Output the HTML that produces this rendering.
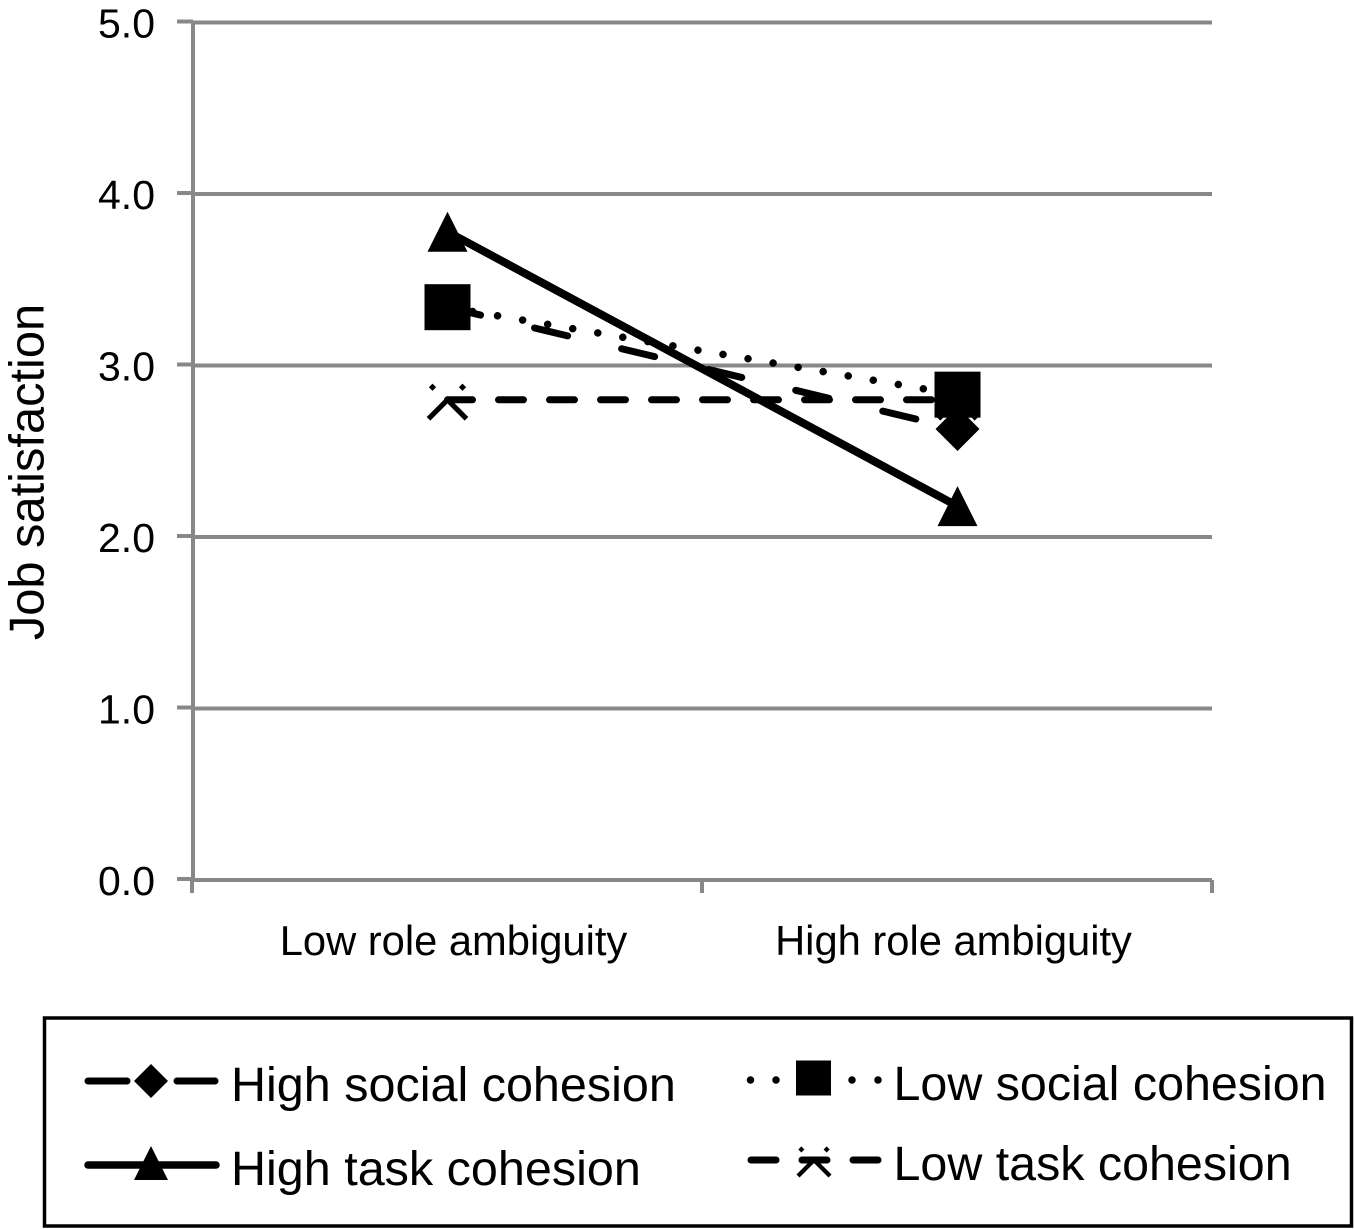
<!DOCTYPE html>
<html lang="en">
<head>
<meta charset="utf-8">
<title>Job satisfaction chart</title>
<style>
html,body{margin:0;padding:0;background:#fff;}
svg{display:block;font-family:"Liberation Sans",sans-serif;fill:#000;}
</style>
</head>
<body>
<svg id="chart" xmlns="http://www.w3.org/2000/svg" width="1354" height="1229" viewBox="0 0 1354 1229">
  <rect x="0" y="0" width="1354" height="1229" fill="#fff"/>
  <g id="grid"></g>
  <g id="axes"></g>
  <g id="series"></g>
  <text transform="translate(43.5 472) rotate(-90)" text-anchor="middle" font-size="48.8">Job satisfaction</text>

  <g>
    <rect x="44.5" y="1018" width="1307" height="208" fill="#fff" stroke="#000" stroke-width="3.5"/>
    <g id="legend-symbols"></g>
    <text x="231" y="1101" font-size="48.5">High social cohesion</text>
    <text x="231" y="1185" font-size="48.5">High task cohesion</text>
    <text x="893.5" y="1100" font-size="48.4">Low social cohesion</text>
    <text x="893.5" y="1180" font-size="48.4">Low task cohesion</text>
  </g>
</svg>
<script>
const categories = ["Low role ambiguity", "High role ambiguity"];
const yTickValues = [0, 1, 2, 3, 4, 5];
const yTickLabels = ["0.0", "1.0", "2.0", "3.0", "4.0", "5.0"];
const highSocialValues = [3.34, 2.63];
const lowSocialValues = [3.34, 2.83];
const highTaskValues = [3.78, 2.18];
const lowTaskValues = [2.80, 2.80];

const NS = "http://www.w3.org/2000/svg";
const plotLeft = 193, plotRight = 1212, plotTop = 22.5, plotBottom = 880;
const yMax = 5;
const gridColor = "#888888";

function yScale(v) { return plotBottom - (v / yMax) * (plotBottom - plotTop); }
function bandLeft(i) { return plotLeft - 1 + i * (plotRight - plotLeft + 1) / categories.length; }
function xScale(i) { return bandLeft(i) + (plotRight - plotLeft + 1) / categories.length / 2 + 0.5; }

function make(tag, attrs, parent) {
  const e = document.createElementNS(NS, tag);
  for (const k in attrs) e.setAttribute(k, attrs[k]);
  parent.appendChild(e);
  return e;
}

function drawMarker(kind, cx, cy, s, parent) {
  if (kind === "diamond") {
    const m = make("polygon", { points: [cx, cy - s, cx + s, cy, cx, cy + s, cx - s, cy].join(","), fill: "#000" }, parent);
    
    
  } else if (kind === "square") {
    const m = make("rect", { x: cx - s, y: cy - s, width: 2 * s, height: 2 * s, fill: "#000" }, parent);
    
    
  } else if (kind === "triangle") {
    const m = make("polygon", { points: [cx, cy - s, cx + s, cy + s, cx - s, cy + s].join(","), fill: "#000" }, parent);
    
    
  } else if (kind === "star") {
    const w = s * 0.27;
    const d = "M" + (cx - s) + " " + (cy + s) + "L" + cx + " " + cy + "L" + (cx + s) + " " + (cy + s);
    const m = make("path", { d: d, fill: "none", stroke: "#000", "stroke-width": w }, parent);
    
    
    [-1, 1].forEach(function (dir) {
      const px = cx + dir * s * 0.79, py = cy - s * 0.66, r = s * 0.19;
      const t = make("polygon", { points: [px, py - r, px + r, py, px, py + r, px - r, py].join(","), fill: "#000" }, parent);
      
      
    });
  }
}

const grid = document.getElementById("grid");
const axes = document.getElementById("axes");
const seriesGroup = document.getElementById("series");
const legendSymbols = document.getElementById("legend-symbols");

yTickValues.forEach(function (v, i) {
  const y = yScale(v);
  const line = make("line", { x1: plotLeft, x2: plotRight, y1: y, y2: y, stroke: gridColor, "stroke-width": 4 }, grid);
  
  
  const tick = make("line", { x1: 177, x2: plotLeft, y1: y - 1, y2: y - 1, stroke: gridColor, "stroke-width": 4 }, axes);
  
  
  const label = make("text", { x: 155, y: y + 15, "text-anchor": "end", "font-size": 41 }, axes);
  label.textContent = yTickLabels[i];
  
  
});

const yAxis = make("line", { x1: plotLeft, x2: plotLeft, y1: plotTop - 2, y2: plotBottom, stroke: gridColor, "stroke-width": 4 }, axes);



for (let i = 0; i <= categories.length; i++) {
  const x = bandLeft(i);
  const tick = make("line", { x1: x, x2: x, y1: plotBottom, y2: 893, stroke: gridColor, "stroke-width": 4 }, axes);
  
  
}

categories.forEach(function (c, i) {
  const label = make("text", { x: xScale(i) + (i === 0 ? 6 : -4), y: 955, "text-anchor": "middle", "font-size": 41.7 }, axes);
  label.textContent = c;
  
  
});

function drawSeries(values, dash, width, kind, size) {
  const g = make("g", {}, seriesGroup);
  
  
  const pts = values.map(function (v, i) { return xScale(i) + "," + yScale(v); }).join(" ");
  const attrs = { points: pts, fill: "none", stroke: "#000", "stroke-width": width, "stroke-linecap": "round" };
  if (dash) attrs["stroke-dasharray"] = dash;
  const line = make("polyline", attrs, g);
  
  
  values.forEach(function (v, i) {
    drawMarker(kind, xScale(i), yScale(v), size, g);
  });
}

drawSeries(highSocialValues, "34 55.5", 7, "diamond", 22);
drawSeries(lowSocialValues, "0.01 25.4", 7.5, "square", 23);
drawSeries(highTaskValues, null, 8, "triangle", 20);
drawSeries(lowTaskValues, "25 26", 7, "star", 19);

function legendLine(x1, x2, y, width, name) {
  const l = make("line", { x1: x1, x2: x2, y1: y, y2: y, stroke: "#000", "stroke-width": width, "stroke-linecap": "round" }, legendSymbols);
  
  
}

legendLine(88, 127, 1081, 7, 'legend-line-high-social');
legendLine(177, 215, 1081, 7, 'legend-line-high-social');
drawMarker("diamond", 151, 1081, 17, legendSymbols);

legendLine(88, 216, 1165, 7.5, 'legend-line-high-task');
drawMarker("triangle", 151, 1163, 17, legendSymbols);

legendLine(750.5, 750.51, 1080, 7.5, 'legend-dot-low-social');
legendLine(776, 776.01, 1080, 7.5, 'legend-dot-low-social');
legendLine(852, 852.01, 1080, 7.5, 'legend-dot-low-social');
legendLine(878, 878.01, 1080, 7.5, 'legend-dot-low-social');
drawMarker("square", 813.5, 1078, 17.5, legendSymbols);

legendLine(751, 776, 1160, 7, 'legend-line-low-task');
legendLine(802, 827, 1160, 7, 'legend-line-low-task');
legendLine(853, 878, 1160, 7, 'legend-line-low-task');
drawMarker("star", 814, 1160, 16, legendSymbols);
</script>
</body>
</html>
